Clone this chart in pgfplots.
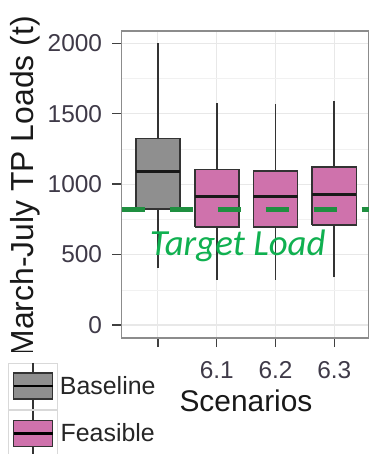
\documentclass[border=0pt]{standalone}
\usepackage{pgfplots}
\pgfplotsset{compat=1.18}
\usepackage{fontspec}
\setmainfont{Liberation Sans}
\newfontfamily\calibri{Carlito}
\definecolor{boxgrey}{HTML}{8F8F8F}
\definecolor{boxpink}{HTML}{CF72AC}
\definecolor{tgreen}{HTML}{1F8F40}
\definecolor{txtgreen}{HTML}{10B050}
\definecolor{gridc}{HTML}{E8E8E8}
\definecolor{ticktext}{HTML}{3F3A48}
\pgfplotsset{
  boxleg/.style={legend image code/.code={
    \draw[gray!30, fill=white, line width=0.8bp] (0bp,-23bp) rectangle (49bp,23bp);
    \draw[black!80, line width=1.6bp] (24.5bp,-23bp) -- (24.5bp,23bp);
    \filldraw[draw=black!80, line width=1.6bp] (5bp,-13bp) rectangle (44bp,13bp);
    \draw[black, line width=2.5bp] (5bp,0bp) -- (44bp,0bp);
  }},
  whisk/.style={forget plot, draw=black!80, line width=1.7bp},
  med/.style={forget plot, draw=black!90, line width=3bp},
  bx/.style={draw=black!80, line width=1.7bp, line join=miter},
}
\begin{document}
\begin{tikzpicture}
\useasboundingbox (0bp,0bp) rectangle (369bp,454bp);
\begin{axis}[
  at={(121.5bp,116bp)}, anchor=south west,
  scale only axis, width=247.5bp, height=307bp,
  xmin=0.38, xmax=4.59, ymin=-92, ymax=2087,
  xtick={1,2,3,4}, xticklabels={,6.1,6.2,6.3},
  ytick={0,500,1000,1500,2000},
  minor ytick={250,750,1250,1750},
  grid=both,
  major grid style={gridc, line width=1.1bp},
  minor grid style={gridc!60!white, line width=0.6bp},
  tick align=outside, major tick length=9bp,
  minor tick style={draw=none},
  xtick pos=left, ytick pos=left,
  tick style={color=black!75, line width=1.4bp},
  axis line style={color=black!45, line width=1.4bp},
  /pgf/number format/assume math mode=true,
  /pgf/number format/1000 sep={},
  ticklabel style={font=\fontsize{24.5}{24.5}\selectfont, text=ticktext},
  yticklabel style={xshift=-7bp},
  xticklabel style={yshift=-11bp},
  ylabel={March-July TP Loads (t)},
  ylabel style={at={(axis description cs:-0.39,0.494)}, anchor=center, font=\fontsize{32}{32}\selectfont, text=black!90},
  xlabel={Scenarios},
  xlabel style={at={(axis description cs:0.503,-0.205)}, anchor=center, font=\fontsize{30}{30}\selectfont, text=black!90},
  legend style={at={(axis description cs:-0.491,-0.0456)}, anchor=north west, fill=white, draw=none,
    inner xsep=8bp, inner ysep=10bp, row sep=0bp, font=\fontsize{25}{25}\selectfont, text=black!85,
    nodes={inner xsep=2bp, inner ysep=0bp}},
]
% whiskers
\addplot[whisk] coordinates {(1,405) (1,824)};
\addplot[whisk] coordinates {(1,1325) (1,2000)};
\addplot[whisk] coordinates {(2,320) (2,698)};
\addplot[whisk] coordinates {(2,1105) (2,1578)};
\addplot[whisk] coordinates {(3,320) (3,698)};
\addplot[whisk] coordinates {(3,1093) (3,1569)};
\addplot[whisk] coordinates {(4,339) (4,710)};
\addplot[whisk] coordinates {(4,1120) (4,1590)};
% boxes (quartiles), width 0.75
\addplot[bx, fill=boxgrey, boxleg] coordinates {(0.625,824) (1.375,824) (1.375,1325) (0.625,1325) (0.625,824)};
\addlegendentry{Baseline}
\addplot[bx, fill=boxpink, boxleg] coordinates {(1.625,698) (2.375,698) (2.375,1105) (1.625,1105) (1.625,698)};
\addlegendentry{Feasible}
\addplot[bx, fill=boxpink, forget plot] coordinates {(2.625,698) (3.375,698) (3.375,1093) (2.625,1093) (2.625,698)};
\addplot[bx, fill=boxpink, forget plot] coordinates {(3.625,710) (4.375,710) (4.375,1120) (3.625,1120) (3.625,710)};
% medians
\addplot[med] coordinates {(0.625,1088) (1.375,1088)};
\addplot[med] coordinates {(1.625,911) (2.375,911)};
\addplot[med] coordinates {(2.625,911) (3.375,911)};
\addplot[med] coordinates {(3.625,928) (4.375,928)};
% target load
\addplot[forget plot, tgreen, line width=5bp, dash pattern=on 23bp off 25bp] coordinates {(0.38,821) (4.59,821)};
\node[font=\calibri\itshape\fontsize{37}{37}\selectfont, text=txtgreen, anchor=base west, inner sep=0pt] at (axis cs:0.86,497) {Target Load};
\end{axis}
\end{tikzpicture}
\end{document}
